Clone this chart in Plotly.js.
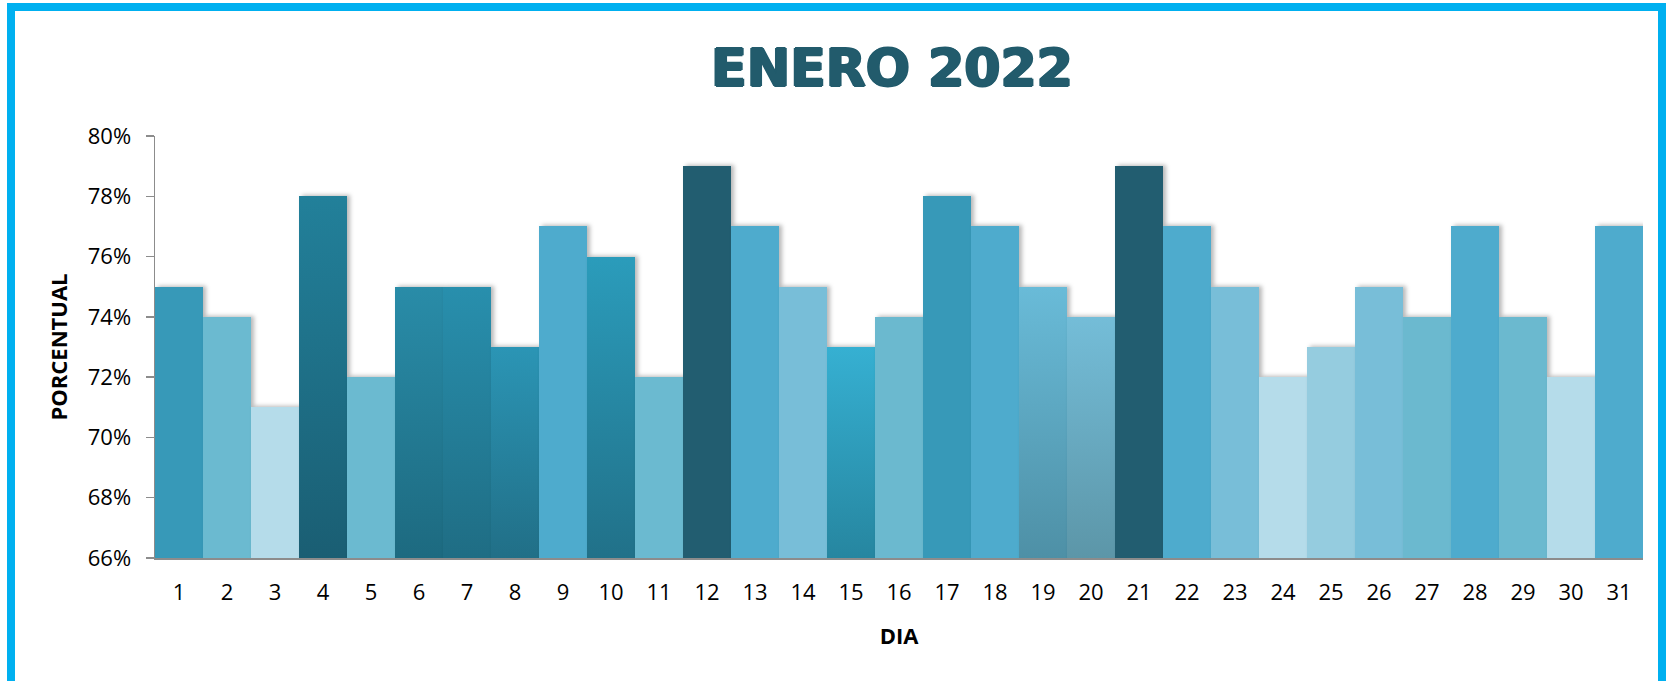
<!DOCTYPE html>
<html>
<head>
<meta charset="utf-8">
<script src="https://cdn.plot.ly/plotly-3.0.1.min.js"></script>
<style>
  html, body { margin: 0; padding: 0; background: #fff; overflow: hidden; }
  #wrap { position: relative; width: 1668px; height: 681px; }
  #chart { position: absolute; left: 0; top: 0; width: 1668px; height: 681px; }
  #frame { position: absolute; left: 7px; top: 3px; width: 1659px; height: 690px;
           border: 8px solid #00B0F0; box-sizing: border-box; pointer-events: none; }
</style>
</head>
<body>
<div id="wrap">
  <div id="chart"></div>
  <div id="frame"></div>
</div>
<script>
// ---- data ----
const dias = ['1','2','3','4','5','6','7','8','9','10','11','12','13','14','15','16',
              '17','18','19','20','21','22','23','24','25','26','27','28','29','30','31'];
const porcentual = [0.75, 0.74, 0.71, 0.78, 0.72, 0.75, 0.75, 0.73, 0.77, 0.76, 0.72,
                    0.79, 0.77, 0.75, 0.73, 0.74, 0.78, 0.77, 0.75, 0.74, 0.79, 0.77,
                    0.75, 0.72, 0.73, 0.75, 0.74, 0.77, 0.74, 0.72, 0.77];
const tituloGrafico = 'ENERO 2022';
const tituloX = 'DIA';
const tituloY = 'PORCENTUAL';

// ---- styles: [top colour, bottom colour] per bar ----
const barColors = [
  ['#3799B8','#3799B8'], ['#6BBAD0','#6BBAD0'], ['#B5DCEA','#B5DCEA'], ['#22809A','#1A5E73'],
  ['#6BBAD0','#6BBAD0'], ['#298CA8','#1D6A80'], ['#288FAD','#1F6D84'], ['#2B95B5','#216F87'],
  ['#4EABCD','#4EABCD'], ['#2B9CBB','#217189'], ['#6BBAD0','#6BBAD0'], ['#225D70','#225D70'],
  ['#4EABCD','#4EABCD'], ['#78BED8','#78BED8'], ['#36B0D2','#2686A0'], ['#6BB9CF','#6BB9CF'],
  ['#3799B8','#3799B8'], ['#4EABCD','#4EABCD'], ['#69BBD8','#4E90A6'], ['#74BDD8','#5C96A8'],
  ['#225D70','#225D70'], ['#4EABCD','#4EABCD'], ['#78BED8','#78BED8'], ['#B5DCEA','#B5DCEA'],
  ['#95CCDF','#95CCDF'], ['#78BED8','#78BED8'], ['#6BB9CF','#6BB9CF'], ['#4EABCD','#4EABCD'],
  ['#6BB9CF','#6BB9CF'], ['#B5DCEA','#B5DCEA'], ['#4EABCD','#4EABCD']
];

const font = 'Open Sans, Lato, sans-serif';
const titleColor = '#225B6C';

const trace = {
  type: 'bar',
  x: dias,
  y: porcentual,
  marker: { color: barColors.map(c => c[0]), line: { width: 0 } },
  hoverinfo: 'x+y'
};

const layout = {
  width: 1668, height: 681,
  margin: { l: 155, r: 25, t: 136, b: 123 },
  paper_bgcolor: '#ffffff', plot_bgcolor: '#ffffff',
  bargap: 0,
  showlegend: false,
  title: {
    text: tituloGrafico,
    font: {
      family: 'DejaVu Sans, Arial Black, sans-serif', size: 52, weight: 700, color: titleColor,
      shadow: `1.3px 0 0 ${titleColor}, -1.3px 0 0 ${titleColor}, 0 1px 0 ${titleColor}, 0 -1px 0 ${titleColor}`
    },
    xref: 'container', x: 892 / 1668, xanchor: 'center',
    yref: 'container', y: 1 - 68 / 681, yanchor: 'middle'
  },
  xaxis: {
    type: 'category',
    showline: true, linecolor: '#8c8c8c', linewidth: 2,
    ticks: '', showgrid: false, zeroline: false,
    tickfont: { family: font, size: 22, color: '#000' },
    ticklabelstandoff: 14,
    title: { text: tituloX, font: { family: font, size: 22, weight: 700, color: '#000' }, standoff: 23 }
  },
  yaxis: {
    range: [0.66, 0.80], tick0: 0.66, dtick: 0.02, tickformat: '.0%',
    showline: true, linecolor: '#8c8c8c', linewidth: 1.5,
    ticks: 'outside', ticklen: 8, tickcolor: '#8c8c8c', tickwidth: 1.5,
    showgrid: false, zeroline: false,
    tickfont: { family: font, size: 22, color: '#000' },
    ticklabelstandoff: 10,
    title: { text: tituloY, font: { family: font, size: 22, weight: 700, color: '#000' }, standoff: 14 }
  }
};

const gd = document.getElementById('chart');
Plotly.newPlot(gd, [trace], layout, { displayModeBar: false, staticPlot: true }).then(() => {
  const svgNS = 'http://www.w3.org/2000/svg';
  const svg = gd.querySelector('.main-svg');
  let defs = svg.querySelector('defs');
  if (!defs) { defs = document.createElementNS(svgNS, 'defs'); svg.insertBefore(defs, svg.firstChild); }
  const ya = gd._fullLayout.yaxis;
  const paths = gd.querySelectorAll('.barlayer .trace .point path');
  paths.forEach((p, i) => {
    const g = document.createElementNS(svgNS, 'linearGradient');
    g.setAttribute('id', 'barGrad' + i);
    g.setAttribute('gradientUnits', 'userSpaceOnUse');
    g.setAttribute('x1', 0); g.setAttribute('x2', 0);
    g.setAttribute('y1', ya.l2p(porcentual[i]));
    g.setAttribute('y2', ya._length);
    [[0, barColors[i][0]], [1, barColors[i][1]]].forEach(([o, c]) => {
      const s = document.createElementNS(svgNS, 'stop');
      s.setAttribute('offset', o); s.setAttribute('stop-color', c);
      g.appendChild(s);
    });
    defs.appendChild(g);
    p.style.fill = 'url(#barGrad' + i + ')';
    p.style.filter = 'drop-shadow(3px -1px 2px rgba(0,0,0,0.28))';
  });
});
</script>
</body>
</html>
